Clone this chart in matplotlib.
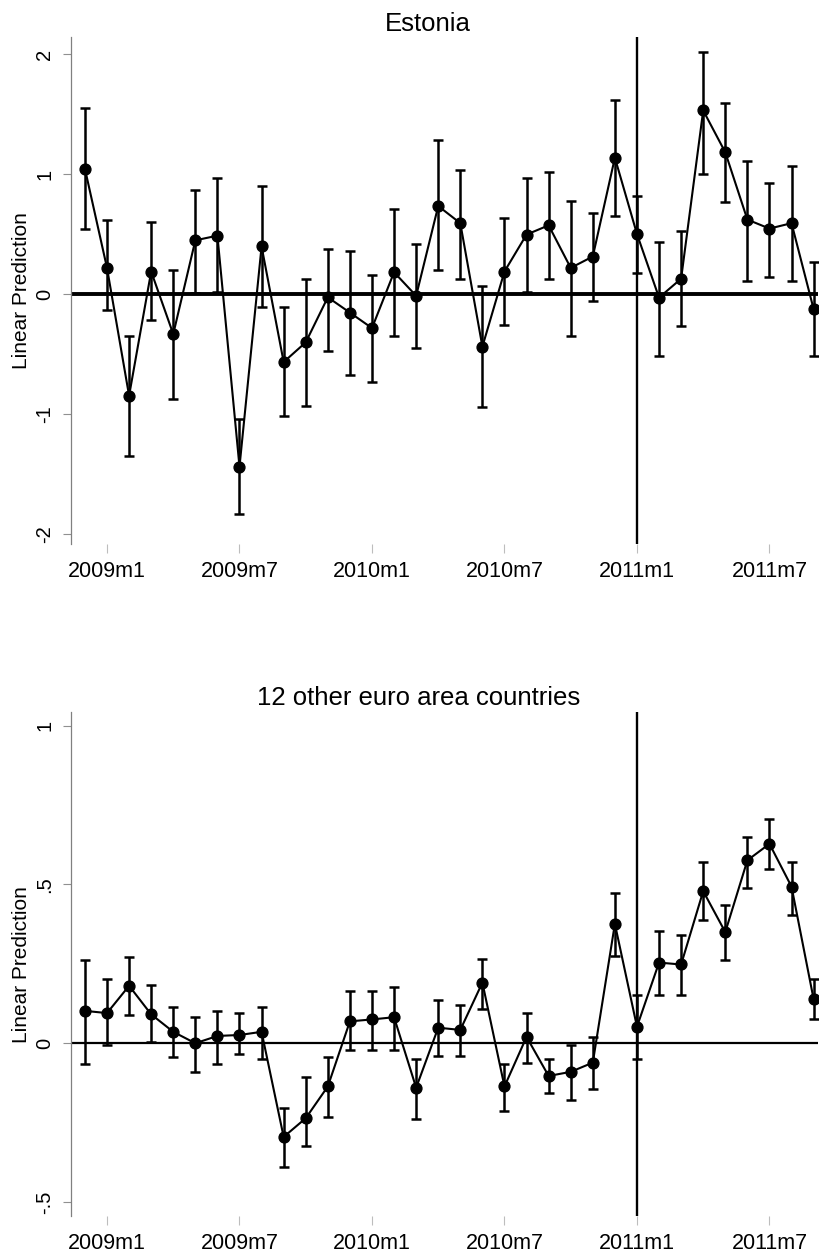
import matplotlib
matplotlib.use("Agg")
import matplotlib.pyplot as plt
import numpy as np

plt.rcParams['font.family'] = ['Liberation Sans', 'DejaVu Sans']

# months: 0 = 2009m1, -1 = 2008m12 ... 32 = 2011m9
months = list(range(-1, 33))
tick_pos = [0, 6, 12, 18, 24, 30]
tick_labels = ['2009m1', '2009m7', '2010m1', '2010m7', '2011m1', '2011m7']
break_month = 24  # 2011m1

# Estonia
est_pred = [1.045, 0.218, -0.848, 0.188, -0.334, 0.448, 0.487, -1.44, 0.397, -0.567,
            -0.403, -0.027, -0.155, -0.284, 0.182, -0.015, 0.734, 0.591, -0.439, 0.188,
            0.496, 0.573, 0.218, 0.313, 1.137, 0.501, -0.03, 0.128, 1.531, 1.182,
            0.621, 0.546, 0.591, -0.125]
est_hi = [1.55, 0.615, -0.35, 0.60, 0.197, 0.869, 0.964, -1.04, 0.904, -0.104,
          0.128, 0.379, 0.358, 0.158, 0.71, 0.418, 1.287, 1.033, 0.063, 0.636,
          0.964, 1.018, 0.779, 0.672, 1.621, 0.821, 0.433, 0.522, 2.02, 1.597,
          1.107, 0.928, 1.069, 0.269]
est_lo = [0.546, -0.13, -1.35, -0.215, -0.872, 0.01, 0.015, -1.836, -0.104, -1.02,
          -0.931, -0.478, -0.678, -0.737, -0.349, -0.454, 0.197, 0.128, -0.946, -0.26,
          0.015, 0.128, -0.349, -0.057, 0.654, 0.179, -0.513, -0.269, 1.003, 0.764,
          0.107, 0.143, 0.107, -0.513]

# 12 other euro area countries
ea_pred = [0.102, 0.095, 0.181, 0.091, 0.036, 0.0, 0.023, 0.026, 0.036, -0.295,
           -0.236, -0.136, 0.069, 0.075, 0.082, -0.14, 0.049, 0.042, 0.191, -0.136,
           0.02, -0.103, -0.09, -0.061, 0.376, 0.052, 0.254, 0.248, 0.479, 0.35,
           0.576, 0.628, 0.493, 0.139]
ea_hi = [0.261, 0.201, 0.272, 0.185, 0.115, 0.082, 0.102, 0.095, 0.115, -0.205,
         -0.107, -0.044, 0.164, 0.164, 0.177, -0.05, 0.135, 0.122, 0.265, -0.064,
         0.095, -0.05, -0.004, 0.02, 0.473, 0.151, 0.354, 0.34, 0.572, 0.436,
         0.649, 0.707, 0.572, 0.201]
ea_lo = [-0.064, -0.007, 0.089, 0.003, -0.044, -0.09, -0.064, -0.033, -0.05, -0.391,
         -0.322, -0.232, -0.021, -0.021, -0.021, -0.238, -0.041, -0.041, 0.109, -0.213,
         -0.061, -0.156, -0.179, -0.143, 0.274, -0.05, 0.151, 0.151, 0.389, 0.261,
         0.49, 0.548, 0.403, 0.075]

est_yticks = [-2, -1, 0, 1, 2]
est_ylabels = ['-2', '-1', '0', '1', '2']
ea_yticks = [-0.5, 0, 0.5, 1]
ea_ylabels = ['-.5', '0', '.5', '1']

fig = plt.figure(figsize=(8.2, 12.57), dpi=100)
ax1 = fig.add_axes([0.0866, 0.5672, 0.911, 0.403])
ax2 = fig.add_axes([0.0866, 0.0326, 0.911, 0.4007])


def draw_panel(ax, pred, lo, hi, title, title_x, ylim, yticks, ylabels, zero_lw):
    pred = np.array(pred)
    err = [pred - np.array(lo), np.array(hi) - pred]
    ax.axvline(break_month, color='black', lw=1.7, zorder=1)
    ax.axhline(0, color='black', lw=zero_lw, zorder=1)
    ax.errorbar(months, pred, yerr=err, fmt='none', ecolor='black',
                elinewidth=1.8, capsize=3.8, capthick=1.8, zorder=2)
    ax.plot(months, pred, color='black', lw=1.5, marker='o', markersize=7.8, zorder=3)

    ax.set_xlim(-1.63, 32.2)
    ax.set_ylim(*ylim)
    ax.set_xticks(tick_pos)
    ax.set_xticklabels(tick_labels, fontsize=15.5)
    ax.set_yticks(yticks)
    ax.set_yticklabels(ylabels, fontsize=14.5, rotation=90, va='center')
    ax.tick_params(axis='x', length=6.5, width=0.8, color='#bdbdbd', pad=6)
    ax.tick_params(axis='y', length=6, width=0.8, color='#909090', pad=6)

    for s in ['top', 'right', 'bottom']:
        ax.spines[s].set_visible(False)
    ax.spines['left'].set_color('#808080')
    ax.spines['left'].set_linewidth(0.9)

    ax.set_ylabel('Linear Prediction', fontsize=15)
    ax.yaxis.label.set_va('center')
    ax.yaxis.set_label_coords(-0.066, 0.5)
    ax.set_title(title, fontsize=18.5, x=title_x, pad=5)


draw_panel(ax1, est_pred, est_lo, est_hi, 'Estonia', 0.478,
           (-2.085, 2.14), est_yticks, est_ylabels, 2.8)
draw_panel(ax2, ea_pred, ea_lo, ea_hi, '12 other euro area countries', 0.466,
           (-0.544, 1.042), ea_yticks, ea_ylabels, 1.6)

fig.savefig('out.png', dpi=100)
